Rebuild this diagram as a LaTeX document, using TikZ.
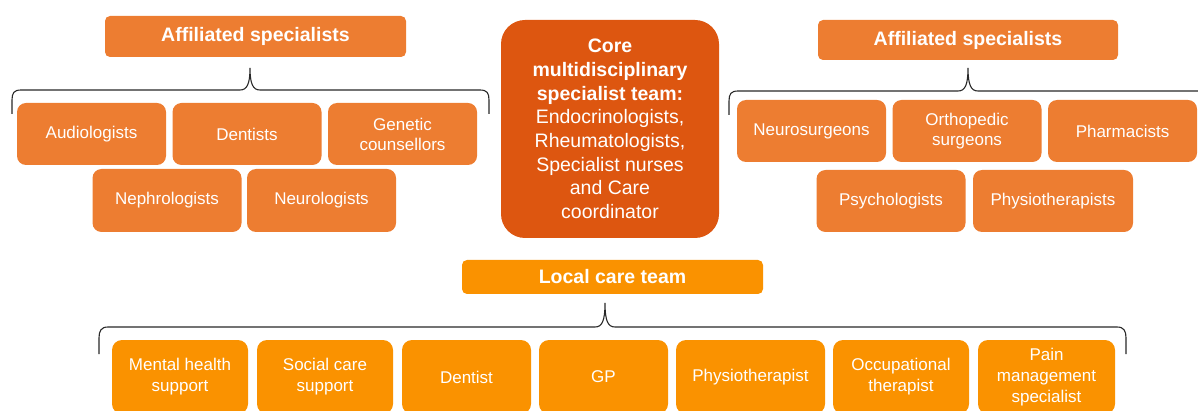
\documentclass[tikz,border=0pt]{standalone}
\usepackage{fontspec}
\setmainfont{Liberation Sans}
\definecolor{affilorange}{RGB}{237,125,49}
\definecolor{coreorange}{RGB}{221,86,16}
\definecolor{localorange}{RGB}{250,146,0}
\definecolor{bracketgray}{RGB}{40,40,40}

\begin{document}
\begin{tikzpicture}
  [
    x = 1pt, y = -1pt,
    box/.style = {text = white, align = center, inner sep = 0pt,
        font = \fontsize{17}{20}\selectfont},
    header/.style = {box, rounded corners = 5pt, fill = affilorange,
        minimum width = 301pt, minimum height = 41pt,
        font = \bfseries\fontsize{19.5}{22}\selectfont},
    affil/.style = {box, rounded corners = 9pt, fill = affilorange,
        minimum width = 149pt, minimum height = 62pt},
    local/.style = {box, rounded corners = 10pt, fill = localorange,
        minimum height = 74pt, font = \fontsize{17}{21}\selectfont},
    bracket/.style = {draw = bracketgray, line width = 1.1pt},
  ]

  \clip (0,0) rectangle (1198,411);

  % core team
  \node [box, rounded corners = 24pt, fill = coreorange,
    minimum width = 218pt, minimum height = 218pt,
    font = \fontsize{19.5}{23.7}\selectfont] (core) at (610,129)
    {\textbf{Core}\\ \textbf{multidisciplinary}\\ \textbf{specialist team:}\\
      Endocrinologists,\\ Rheumatologists,\\ Specialist nurses\\ and Care\\ coordinator};

  % affiliated specialists, left
  \node [header] (lhead) at (255.5,36.5) {Affiliated specialists};
  \node [affil] (audio) at (91.5,134) {Audiologists};
  \node [affil] (dent) at (247,134) {Dentists};
  \node [affil] (genet) at (402.5,134) {Genetic\\ counsellors};
  \node [affil, minimum height = 63pt] (nephro) at (167,200.5) {Nephrologists};
  \node [affil, minimum height = 63pt] (neuro) at (321.5,200.5) {Neurologists};

  % affiliated specialists, right
  \node [header, minimum width = 300pt, minimum height = 40pt] (rhead) at (968,40) {Affiliated specialists};
  \node [affil] (nsurg) at (811.5,131) {Neurosurgeons};
  \node [affil] (ortho) at (967,131) {Orthopedic\\ surgeons};
  \node [affil] (pharm) at (1122.5,131) {Pharmacists};
  \node [affil] (psych) at (891,201) {Psychologists};
  \node [affil, minimum width = 160pt] (physios) at (1053,201) {Physiotherapists};

  % local care team
  \node [header, fill = localorange, minimum height = 34pt] (bhead) at (612.5,277) {Local care team};
  \node [local, minimum width = 136pt] (mental) at (180,377) {Mental health\\ support};
  \node [local, minimum width = 136pt] (social) at (325,377) {Social care\\ support};
  \node [local, minimum width = 129pt] (dentist) at (466.5,377) {Dentist};
  \node [local, minimum width = 129pt] (gp) at (603.5,377) {GP};
  \node [local, minimum width = 149pt] (physio) at (750.5,377) {Physiotherapist};
  \node [local, minimum width = 136pt] (occup) at (901,377) {Occupational\\ therapist};
  \node [local, minimum width = 137pt] (pain) at (1046.5,377) {Pain\\ management\\ specialist};

  % brackets
  \coordinate (ltip) at (250,68);
  \coordinate (rtip) at (968,68);
  \coordinate (btip) at (605,303);

  \draw [bracket] (12,114) -- (12,100) .. controls (12,93) and (14,90) .. (21,90)
    -- (240,90) .. controls (247,90) and (250,84) .. (ltip)
    .. controls (250,84) and (253,90) .. (260,90)
    -- (480,90) .. controls (487,90) and (489,93) .. (489,100) -- (489,114);

  \draw [bracket] (729,115) -- (729,101) .. controls (729,94) and (731,91) .. (738,91)
    -- (958,91) .. controls (965,91) and (968,85) .. (rtip)
    .. controls (968,85) and (971,91) .. (978,91)
    -- (1198,91) .. controls (1205,91) and (1207,94) .. (1207,101) -- (1207,115);

  \draw [bracket] (99,354) -- (99,338) .. controls (99,331) and (101,327) .. (108,327)
    -- (595,327) .. controls (602,327) and (605,321) .. (btip)
    .. controls (605,321) and (608,327) .. (615,327)
    -- (1117,327) .. controls (1124,327) and (1126,331) .. (1126,338) -- (1126,354);

\end{tikzpicture}
\end{document}
